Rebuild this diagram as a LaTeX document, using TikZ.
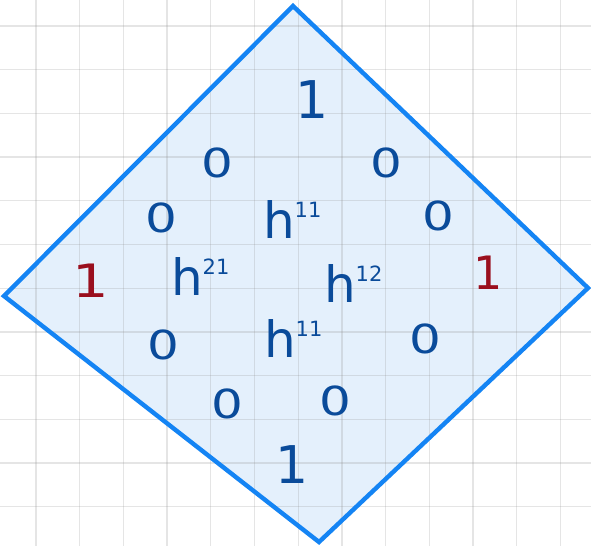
\documentclass[tikz,border=0pt]{standalone}
\usepackage{fontspec}
\usepackage{graphicx}
\setmainfont{DejaVu Sans}
\definecolor{gridc}{HTML}{8A8A8A}
\definecolor{fillc}{HTML}{E4F0FC}
\definecolor{edgec}{HTML}{1484F4}
\definecolor{inkb}{HTML}{0A4B9A}
\definecolor{inkr}{HTML}{9A0F1E}
\tikzset{
  lbl/.style={inner sep=0pt, outer sep=0pt, anchor=base, text=inkb},
  one/.style={lbl, font=\fontsize{52}{52}\selectfont},
  redone/.style={lbl, text=inkr, font=\fontsize{46}{46}\selectfont},
  zero/.style={lbl, font=\fontsize{40}{40}\selectfont},
  hn/.style={lbl, anchor=base west, font=\fontsize{50}{50}\selectfont},
  gridline/.style={draw=gridc, opacity=0.22, line width=1.3pt},
  diamondedge/.style={draw=edgec, line width=4.4pt, line join=miter}
}
\newcommand{\hsup}[1]{h\raisebox{21pt}{\fontsize{21}{21}\selectfont #1}}
\newcommand{\wz}{\scalebox{1.25}[1]{0}}
\begin{document}
\begin{tikzpicture}[x=1pt,y=-1pt]
\useasboundingbox (0,0) rectangle (591,546);
\fill[white] (0,0) rectangle (591,546);
\coordinate (T) at (293,6);
\coordinate (L) at (4,296);
\coordinate (B) at (319,542);
\coordinate (R) at (588,288);
\fill[fillc] (T) -- (R) -- (B) -- (L) -- cycle;
\foreach \k in {0,...,12} {
  \draw[gridline] ({36+43.7*\k},0) -- ({36+43.7*\k},546);
}
\foreach \k in {0,...,11} {
  \draw[gridline] (0,{26+43.7*\k}) -- (591,{26+43.7*\k});
}
\draw[diamondedge] (T) -- (R) -- (B) -- (L) -- cycle;

\node[one] (top1) at (312,118) {1};
\node[one] (bot1) at (292,483) {1};
\node[redone] (left1) at (91,297) {\scalebox{1.25}[1]{1}};
\node[redone] (right1) at (488,289) {1};

\node[zero] (z1) at (217,177) {\wz};
\node[zero] (z2) at (386,177) {\wz};
\node[zero] (z3) at (161,232) {\wz};
\node[zero] (z4) at (438,230) {\wz};
\node[zero] (z5) at (163,359) {\wz};
\node[zero] (z6) at (425,353) {\wz};
\node[zero] (z7) at (227,418) {\wz};
\node[zero] (z8) at (335,415) {\wz};

\node[hn] (h11a) at (263,238) {\hsup{11}};
\node[hn] (h21) at (171,295) {\hsup{21}};
\node[hn] (h12) at (324,302) {\hsup{12}};
\node[hn] (h11b) at (264,357) {\hsup{11}};
\end{tikzpicture}
\end{document}
